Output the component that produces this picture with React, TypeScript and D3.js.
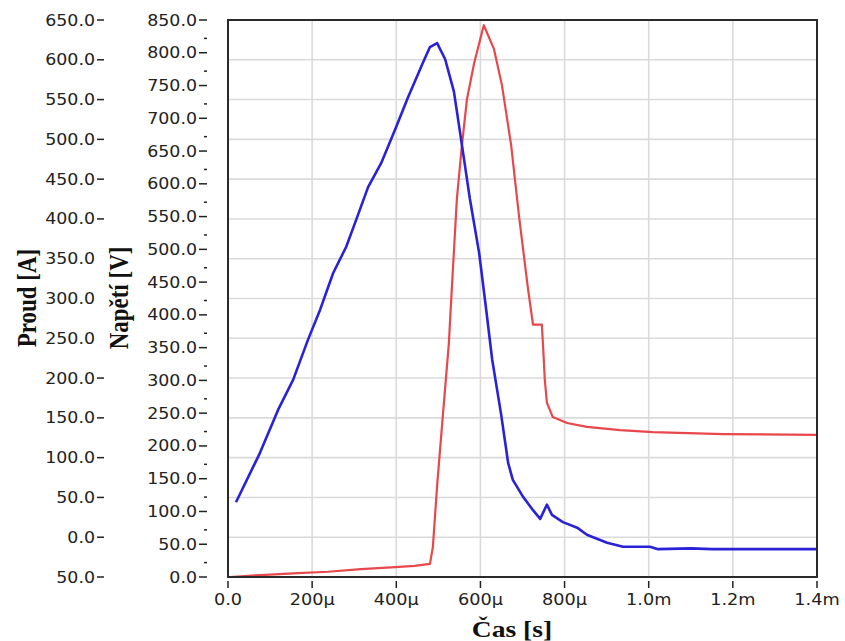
import React from 'react'
import * as d3 from 'd3'

// current (blue), time in µs
const currentTime = [19, 76, 119, 155, 190, 219, 250, 281, 302, 333, 364, 397, 428, 463, 480, 497, 516, 537, 556, 575, 597, 613, 628, 649, 666, 677, 701, 725, 742, 758, 770, 796, 830, 853, 868, 901, 939, 1003, 1022, 1100, 1150, 1400]
const currentA = [44, 106, 160, 198, 248, 286, 332, 365, 395, 440, 470, 512, 553, 596, 616, 621, 601, 560, 493, 425, 357, 289, 223, 155, 93, 72, 51, 34, 23, 41, 28, 19, 12, 3, 0, -7, -12, -12, -15, -14, -15, -15]

// voltage (red)
const voltageTime = [5, 78, 166, 238, 316, 397, 444, 480, 487, 497, 511, 525, 532, 544, 556, 568, 585, 608, 632, 651, 673, 692, 713, 725, 746, 749, 753, 758, 772, 806, 853, 932, 1010, 1177, 1400]
const voltageV = [0, 3, 6, 8, 12, 15, 17, 20, 46, 139, 249, 357, 440, 577, 659, 729, 784, 842, 806, 751, 659, 549, 440, 385, 385, 351, 301, 266, 244, 235, 229, 224, 221, 218, 217]

const xTicks = [0, 200, 400, 600, 800, 1000, 1200, 1400]
const xTickLabels = ['0.0', '200µ', '400µ', '600µ', '800µ', '1.0m', '1.2m', '1.4m']
const currentTicks = [650, 600, 550, 500, 450, 400, 350, 300, 250, 200, 150, 100, 50, 0, -50]
const currentTickLabels = ['650.0', '600.0', '550.0', '500.0', '450.0', '400.0', '350.0', '300.0', '250.0', '200.0', '150.0', '100.0', '50.0', '0.0', '50.0']
const voltageTicks = [850, 800, 750, 700, 650, 600, 550, 500, 450, 400, 350, 300, 250, 200, 150, 100, 50, 0]

const left = 228, right = 817, top = 20, bottom = 577
const tickFont = '"DejaVu Sans", Verdana, sans-serif'
const titleFont = '"Liberation Serif", "Times New Roman", serif'

export default function App() {
  const x = d3.scaleLinear().domain([0, 1400]).range([left, right])
  const yI = d3.scaleLinear().domain([-50, 650]).range([bottom, top])
  const yV = d3.scaleLinear().domain([0, 850]).range([bottom, top])

  const currentLine = d3.line<number>().x((d, i) => x(currentTime[i])).y(d => yI(d))
  const voltageLine = d3.line<number>().x((d, i) => x(voltageTime[i])).y(d => yV(d))

  // the Napětí title hides the tick dashes of the current axis
  const napetiSpan = [243, 353]

  return (
    <svg width={845} height={641} style={{ position: 'absolute', left: 0, top: 0, background: '#fff' }}>
      <rect x={0} y={0} width={845} height={641} fill='#fff' />

      {/* grid */}
      <g stroke='#dadada' strokeWidth={1.6}>
        {xTicks.slice(1, -1).map(t => <line key={t} x1={x(t)} x2={x(t)} y1={top} y2={bottom} />)}
        {currentTicks.slice(1, -1).map(t => <line key={t} x1={left} x2={right} y1={yI(t)} y2={yI(t)} />)}
      </g>

      {/* curves */}
      <path d={voltageLine(voltageV) || ''} fill='none' stroke='#e8474c' strokeWidth={2.2} strokeLinejoin='round' />
      <path d={currentLine(currentA) || ''} fill='none' stroke='#2a22d6' strokeWidth={2.6} strokeLinejoin='round' />

      {/* frame */}
      <rect x={left} y={top} width={right - left} height={bottom - top} fill='none' stroke='#2a2a2a' strokeWidth={2} />

      {/* x axis */}
      <g fill='#222' fontFamily={tickFont} fontSize={15}>
        {xTicks.map((t, i) => (
          <g key={t}>
            <line x1={x(t)} x2={x(t)} y1={581} y2={588} stroke='#222' strokeWidth={1.5} />
            <text transform={`translate(${x(t)},605) scale(1.18,1)`} textAnchor='middle'>{xTickLabels[i]}</text>
          </g>
        ))}
      </g>

      {/* current axis */}
      <g fill='#222' fontFamily={tickFont} fontSize={15}>
        {currentTicks.map((t, i) => (
          <g key={i}>
            <text transform={`translate(95,${yI(t) + 5.5}) scale(1.16,1)`} textAnchor='end'>{currentTickLabels[i]}</text>
            {(yI(t) < napetiSpan[0] || yI(t) > napetiSpan[1]) &&
              <line x1={97} x2={104} y1={yI(t)} y2={yI(t)} stroke='#222' strokeWidth={1.5} />}
          </g>
        ))}
      </g>

      {/* voltage axis */}
      <g fill='#222' fontFamily={tickFont} fontSize={15}>
        {voltageTicks.map(t => (
          <g key={t}>
            <text transform={`translate(197,${yV(t) + 5.5}) scale(1.16,1)`} textAnchor='end'>{t.toFixed(1)}</text>
            <line x1={199} x2={207} y1={yV(t)} y2={yV(t)} stroke='#222' strokeWidth={1.5} />
            {t > 0 && <line x1={204} x2={207} y1={yV(t - 25) + 2} y2={yV(t - 25) + 2} stroke='#222' strokeWidth={1.5} />}
          </g>
        ))}
      </g>

      {/* titles */}
      <text transform='translate(512,637) scale(1.2,1)' textAnchor='middle' fontFamily={titleFont} fontWeight='bold' fontSize={23} fill='#111'>Čas [s]</text>
      <text transform='translate(36,298) rotate(-90) scale(1,1.15)' textAnchor='middle' fontFamily={titleFont} fontWeight='bold' fontSize={23} fill='#111'>Proud [A]</text>
      <text transform='translate(128,298) rotate(-90) scale(1,1.15)' textAnchor='middle' fontFamily={titleFont} fontWeight='bold' fontSize={23} fill='#111'>Napětí [V]</text>
    </svg>
  )
}
